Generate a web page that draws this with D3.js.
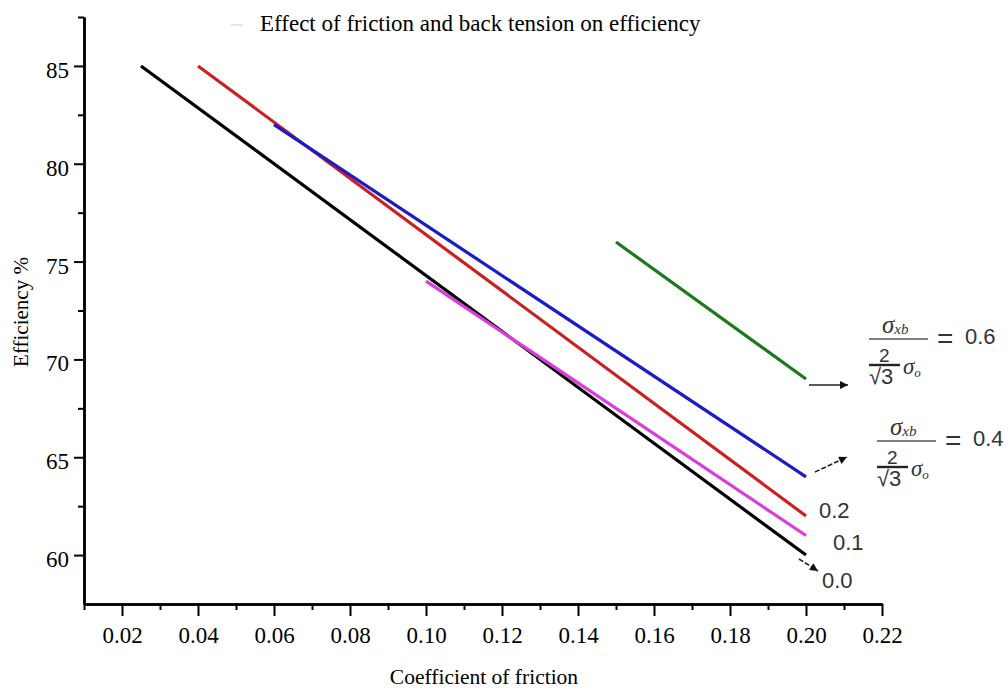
<!DOCTYPE html>
<html>
<head>
<meta charset="utf-8">
<script src="https://cdn.jsdelivr.net/npm/d3@7"></script>
<style>
  body { margin: 0; background: #fff; }
  svg { display: block; }
  .serif { font-family: "Liberation Serif", "DejaVu Serif", serif; }
  .sans { font-family: "Liberation Sans", Arial, "DejaVu Sans", sans-serif; fill: #333; }
</style>
</head>
<body>
<svg width="1008" height="691"></svg>
<script>
// 曲線データ（後方張力比ごと）
const seriesNames = ["0.0", "0.1", "0.2", "0.4", "0.6"];
const seriesColors = ["#000000", "#d93ed9", "#cc2020", "#1c1cc4", "#1b7a1b"];
const seriesFriction = [[0.025, 0.20], [0.10, 0.20], [0.04, 0.20], [0.06, 0.20], [0.15, 0.20]];
const seriesEfficiency = [[85, 60], [74, 61], [85, 62], [82, 64], [76, 69]];

// 目盛り
const xMajorTicks = [0.02, 0.04, 0.06, 0.08, 0.10, 0.12, 0.14, 0.16, 0.18, 0.20, 0.22];
const xMinorTicks = [0.01, 0.03, 0.05, 0.07, 0.09, 0.11, 0.13, 0.15, 0.17, 0.19, 0.21];
const yMajorTicks = [60, 65, 70, 75, 80, 85];
const yMinorTicks = [62.5, 67.5, 72.5, 77.5, 82.5, 87.5];

const svg = d3.select("svg");

const x = d3.scaleLinear().domain([0.01, 0.22]).range([84, 882]);
const y = d3.scaleLinear().domain([57.5, 87.5]).range([604, 17]);

// 軸
function styleAxis(g) {
    g.select(".domain").attr("stroke", "#000").attr("stroke-width", 2.5);
    g.selectAll(".tick line").attr("stroke", "#000").attr("stroke-width", 2);
    g.selectAll(".tick text").attr("class", "serif").attr("fill", "#000").style("font-size", "23px");
}

svg.append("g")
    .attr("transform", "translate(0,604)")
    .call(d3.axisBottom(x).tickValues(xMinorTicks).tickSize(6).tickFormat("").tickSizeOuter(0))
    .call(styleAxis);
svg.append("g")
    .attr("transform", "translate(0,604)")
    .call(d3.axisBottom(x).tickValues(xMajorTicks).tickSize(12).tickPadding(11)
        .tickFormat(d3.format(".2f")).tickSizeOuter(0))
    .call(styleAxis);

svg.append("g")
    .attr("transform", "translate(84,0)")
    .call(d3.axisLeft(y).tickValues(yMinorTicks).tickSize(6).tickFormat("").tickSizeOuter(0))
    .call(styleAxis);
svg.append("g")
    .attr("transform", "translate(84,0)")
    .call(d3.axisLeft(y).tickValues(yMajorTicks).tickSize(10).tickPadding(5)
        .tickFormat(d3.format("d")).tickSizeOuter(0))
    .call(styleAxis)
    .selectAll(".tick text").attr("dy", "0.5em");

// 線
const line = d3.line().x(d => x(d[0])).y(d => y(d[1]));
seriesNames.forEach((name, i) => {
    const pts = seriesFriction[i].map((f, j) => [f, seriesEfficiency[i][j]]);
    svg.append("path")
        .datum(pts)
        .attr("d", line)
        .attr("fill", "none")
        .attr("stroke", seriesColors[i])
        .attr("stroke-width", 3.2);
});

// タイトル・軸ラベル
svg.append("line").attr("x1", 231).attr("x2", 243).attr("y1", 25).attr("y2", 25)
    .attr("stroke", "#ddd").attr("stroke-width", 1.5);
svg.append("text").attr("class", "serif").attr("x", 260).attr("y", 31)
    .style("font-size", "23px").text("Effect of friction and back tension on efficiency");
svg.append("text").attr("class", "serif").attr("x", 484).attr("y", 684)
    .attr("text-anchor", "middle").style("font-size", "21.5px").text("Coefficient of friction");
svg.append("text").attr("class", "serif")
    .attr("transform", "translate(28,312) rotate(-90)")
    .attr("text-anchor", "middle").style("font-size", "21px").text("Efficiency %");

// 矢印
svg.append("defs").append("marker")
    .attr("id", "arrow")
    .attr("viewBox", "0 -5 10 10")
    .attr("refX", 10)
    .attr("refY", 0)
    .attr("markerWidth", 13)
    .attr("markerHeight", 8)
    .attr("markerUnits", "userSpaceOnUse")
    .attr("orient", "auto")
    .append("path")
    .attr("d", "M0,-5L10,0L0,5Z")
    .attr("fill", "#111");

function arrow(x1, y1, x2, y2, dashed) {
    svg.append("line")
        .attr("x1", x1).attr("y1", y1).attr("x2", x2).attr("y2", y2)
        .attr("stroke", "#222").attr("stroke-width", 1.6)
        .attr("stroke-dasharray", dashed ? "5,2" : null)
        .attr("marker-end", "url(#arrow)");
}
arrow(809, 385, 848, 385, false);
arrow(815, 472, 847, 457, true);
arrow(799, 559, 818, 571, true);

// 値ラベル
svg.append("text").attr("class", "sans").attr("x", 819).attr("y", 518).style("font-size", "22px").text("0.2");
svg.append("text").attr("class", "sans").attr("x", 833).attr("y", 550).style("font-size", "22px").text("0.1");
svg.append("text").attr("class", "sans").attr("x", 822).attr("y", 588).style("font-size", "22px").text("0.0");

// 分数の注記
function fraction(bx, by, value) {
    const g = svg.append("g").attr("transform", `translate(${bx},${by})`);
    g.append("line").attr("x1", 0).attr("x2", 59).attr("y1", 0).attr("y2", 0)
        .attr("stroke", "#555").attr("stroke-width", 1.5);
    const num = g.append("text").attr("class", "serif").attr("x", 13).attr("y", -6)
        .attr("fill", "#334").style("font-style", "italic");
    num.append("tspan").style("font-size", "25px").text("σ");
    num.append("tspan").style("font-size", "15px").attr("dy", 1).text("xb");
    g.append("text").attr("class", "sans").attr("x", 10).attr("y", 23).style("font-size", "19px").text("2");
    g.append("line").attr("x1", 0).attr("x2", 31).attr("y1", 26).attr("y2", 26)
        .attr("stroke", "#222").attr("stroke-width", 2.4);
    g.append("text").attr("class", "sans").attr("x", 0).attr("y", 45).style("font-size", "22px").text("√3");
    const den = g.append("text").attr("class", "serif").attr("x", 34).attr("y", 35)
        .attr("fill", "#334").style("font-style", "italic");
    den.append("tspan").style("font-size", "23px").text("σ");
    den.append("tspan").style("font-size", "13px").attr("dy", 3).text("o");
    g.append("text").attr("class", "sans").attr("x", 68).attr("y", 9).style("font-size", "28px").text("=");
    g.append("text").attr("class", "sans").attr("x", 96).attr("y", 5).style("font-size", "22px").text(value);
}
fraction(869, 339, seriesNames[4]);
fraction(877, 441, seriesNames[3]);
</script>
</body>
</html>
